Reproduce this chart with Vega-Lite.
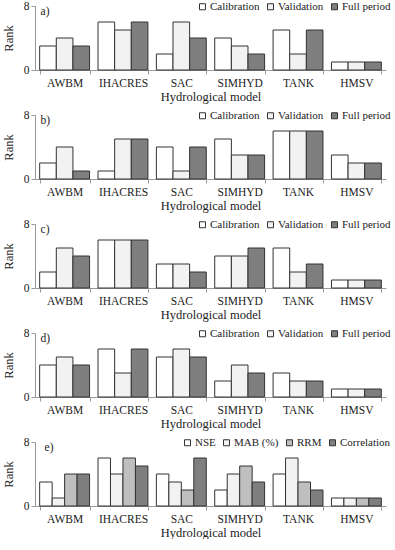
{
  "$schema": "https://vega.github.io/schema/vega-lite/v6.json",
  "padding": {"left": 2, "top": 0, "right": 2, "bottom": 0},
  "background": "white",
  "spacing": 6,
  "config": {
    "font": "Liberation Serif",
    "text": {"font": "Liberation Serif"},
    "view": {"stroke": null},
    "axis": {"labelFont": "Liberation Serif", "titleFont": "Liberation Serif", "labelFontSize": 11.5, "titleFontSize": 12.5, "titleFontWeight": "normal", "labelColor": "#222", "titleColor": "#222", "domainColor": "#999", "tickColor": "#999", "tickSize": 4, "grid": false},
    "legend": {"labelFont": "Liberation Serif", "labelFontSize": 11, "labelColor": "#222", "symbolType": "square", "symbolSize": 36, "symbolStrokeColor": "#333", "symbolStrokeWidth": 1, "labelOffset": 2, "columnPadding": 5, "orient": "top-right", "offset": -5, "direction": "horizontal", "title": null, "padding": 0}
  },
  "datasets": {
    "a": [
      {"model": "AWBM", "period": "Calibration", "rank": 3}, {"model": "AWBM", "period": "Validation", "rank": 4}, {"model": "AWBM", "period": "Full period", "rank": 3},
      {"model": "IHACRES", "period": "Calibration", "rank": 6}, {"model": "IHACRES", "period": "Validation", "rank": 5}, {"model": "IHACRES", "period": "Full period", "rank": 6},
      {"model": "SAC", "period": "Calibration", "rank": 2}, {"model": "SAC", "period": "Validation", "rank": 6}, {"model": "SAC", "period": "Full period", "rank": 4},
      {"model": "SIMHYD", "period": "Calibration", "rank": 4}, {"model": "SIMHYD", "period": "Validation", "rank": 3}, {"model": "SIMHYD", "period": "Full period", "rank": 2},
      {"model": "TANK", "period": "Calibration", "rank": 5}, {"model": "TANK", "period": "Validation", "rank": 2}, {"model": "TANK", "period": "Full period", "rank": 5},
      {"model": "HMSV", "period": "Calibration", "rank": 1}, {"model": "HMSV", "period": "Validation", "rank": 1}, {"model": "HMSV", "period": "Full period", "rank": 1}
    ],
    "b": [
      {"model": "AWBM", "period": "Calibration", "rank": 2}, {"model": "AWBM", "period": "Validation", "rank": 4}, {"model": "AWBM", "period": "Full period", "rank": 1},
      {"model": "IHACRES", "period": "Calibration", "rank": 1}, {"model": "IHACRES", "period": "Validation", "rank": 5}, {"model": "IHACRES", "period": "Full period", "rank": 5},
      {"model": "SAC", "period": "Calibration", "rank": 4}, {"model": "SAC", "period": "Validation", "rank": 1}, {"model": "SAC", "period": "Full period", "rank": 4},
      {"model": "SIMHYD", "period": "Calibration", "rank": 5}, {"model": "SIMHYD", "period": "Validation", "rank": 3}, {"model": "SIMHYD", "period": "Full period", "rank": 3},
      {"model": "TANK", "period": "Calibration", "rank": 6}, {"model": "TANK", "period": "Validation", "rank": 6}, {"model": "TANK", "period": "Full period", "rank": 6},
      {"model": "HMSV", "period": "Calibration", "rank": 3}, {"model": "HMSV", "period": "Validation", "rank": 2}, {"model": "HMSV", "period": "Full period", "rank": 2}
    ],
    "c": [
      {"model": "AWBM", "period": "Calibration", "rank": 2}, {"model": "AWBM", "period": "Validation", "rank": 5}, {"model": "AWBM", "period": "Full period", "rank": 4},
      {"model": "IHACRES", "period": "Calibration", "rank": 6}, {"model": "IHACRES", "period": "Validation", "rank": 6}, {"model": "IHACRES", "period": "Full period", "rank": 6},
      {"model": "SAC", "period": "Calibration", "rank": 3}, {"model": "SAC", "period": "Validation", "rank": 3}, {"model": "SAC", "period": "Full period", "rank": 2},
      {"model": "SIMHYD", "period": "Calibration", "rank": 4}, {"model": "SIMHYD", "period": "Validation", "rank": 4}, {"model": "SIMHYD", "period": "Full period", "rank": 5},
      {"model": "TANK", "period": "Calibration", "rank": 5}, {"model": "TANK", "period": "Validation", "rank": 2}, {"model": "TANK", "period": "Full period", "rank": 3},
      {"model": "HMSV", "period": "Calibration", "rank": 1}, {"model": "HMSV", "period": "Validation", "rank": 1}, {"model": "HMSV", "period": "Full period", "rank": 1}
    ],
    "d": [
      {"model": "AWBM", "period": "Calibration", "rank": 4}, {"model": "AWBM", "period": "Validation", "rank": 5}, {"model": "AWBM", "period": "Full period", "rank": 4},
      {"model": "IHACRES", "period": "Calibration", "rank": 6}, {"model": "IHACRES", "period": "Validation", "rank": 3}, {"model": "IHACRES", "period": "Full period", "rank": 6},
      {"model": "SAC", "period": "Calibration", "rank": 5}, {"model": "SAC", "period": "Validation", "rank": 6}, {"model": "SAC", "period": "Full period", "rank": 5},
      {"model": "SIMHYD", "period": "Calibration", "rank": 2}, {"model": "SIMHYD", "period": "Validation", "rank": 4}, {"model": "SIMHYD", "period": "Full period", "rank": 3},
      {"model": "TANK", "period": "Calibration", "rank": 3}, {"model": "TANK", "period": "Validation", "rank": 2}, {"model": "TANK", "period": "Full period", "rank": 2},
      {"model": "HMSV", "period": "Calibration", "rank": 1}, {"model": "HMSV", "period": "Validation", "rank": 1}, {"model": "HMSV", "period": "Full period", "rank": 1}
    ],
    "e": [
      {"model": "AWBM", "metric": "NSE", "rank": 3}, {"model": "AWBM", "metric": "MAB (%)", "rank": 1}, {"model": "AWBM", "metric": "RRM", "rank": 4}, {"model": "AWBM", "metric": "Correlation", "rank": 4},
      {"model": "IHACRES", "metric": "NSE", "rank": 6}, {"model": "IHACRES", "metric": "MAB (%)", "rank": 4}, {"model": "IHACRES", "metric": "RRM", "rank": 6}, {"model": "IHACRES", "metric": "Correlation", "rank": 5},
      {"model": "SAC", "metric": "NSE", "rank": 4}, {"model": "SAC", "metric": "MAB (%)", "rank": 3}, {"model": "SAC", "metric": "RRM", "rank": 2}, {"model": "SAC", "metric": "Correlation", "rank": 6},
      {"model": "SIMHYD", "metric": "NSE", "rank": 2}, {"model": "SIMHYD", "metric": "MAB (%)", "rank": 4}, {"model": "SIMHYD", "metric": "RRM", "rank": 5}, {"model": "SIMHYD", "metric": "Correlation", "rank": 3},
      {"model": "TANK", "metric": "NSE", "rank": 4}, {"model": "TANK", "metric": "MAB (%)", "rank": 6}, {"model": "TANK", "metric": "RRM", "rank": 3}, {"model": "TANK", "metric": "Correlation", "rank": 2},
      {"model": "HMSV", "metric": "NSE", "rank": 1}, {"model": "HMSV", "metric": "MAB (%)", "rank": 1}, {"model": "HMSV", "metric": "RRM", "rank": 1}, {"model": "HMSV", "metric": "Correlation", "rank": 1}
    ],
    "la": [{"label": "a)"}], "lb": [{"label": "b)"}], "lc": [{"label": "c)"}], "ld": [{"label": "d)"}], "le": [{"label": "e)"}]
  },
  "vconcat": [
    {
      "width": 351, "height": 64,
      "layer": [
        {"data": {"name": "a"}, "mark": {"type": "bar", "stroke": "#333", "strokeWidth": 1},
         "encoding": {
           "x": {"field": "model", "type": "nominal", "sort": ["AWBM", "IHACRES", "SAC", "SIMHYD", "TANK", "HMSV"], "scale": {"paddingInner": 0.145, "paddingOuter": 0.08}, "axis": {"title": "Hydrological model", "labelAngle": 0, "tickBand": "extent", "labelPadding": 3, "titlePadding": 2}},
           "xOffset": {"field": "period", "type": "nominal", "sort": ["Calibration", "Validation", "Full period"], "scale": {"domain": ["Calibration", "Validation", "Full period"]}},
           "y": {"field": "rank", "type": "quantitative", "scale": {"domain": [0, 8]}, "axis": {"title": "Rank", "values": [0, 2, 4, 6, 8], "labelPadding": 2, "titlePadding": 8}},
           "fill": {"field": "period", "type": "nominal", "sort": ["Calibration", "Validation", "Full period"], "scale": {"domain": ["Calibration", "Validation", "Full period"], "range": ["#ffffff", "#f2f2f2", "#7f7f7f"]}}
         }},
        {"data": {"name": "la"}, "mark": {"type": "text", "align": "left", "baseline": "middle", "dx": -24, "fontSize": 11.5, "color": "#222"},
         "encoding": {"x": {"datum": "AWBM"}, "y": {"datum": 7.2}, "text": {"field": "label"}}}
      ]
    },
    {
      "width": 351, "height": 64,
      "layer": [
        {"data": {"name": "b"}, "mark": {"type": "bar", "stroke": "#333", "strokeWidth": 1},
         "encoding": {
           "x": {"field": "model", "type": "nominal", "sort": ["AWBM", "IHACRES", "SAC", "SIMHYD", "TANK", "HMSV"], "scale": {"paddingInner": 0.145, "paddingOuter": 0.08}, "axis": {"title": "Hydrological model", "labelAngle": 0, "tickBand": "extent", "labelPadding": 3, "titlePadding": 2}},
           "xOffset": {"field": "period", "type": "nominal", "sort": ["Calibration", "Validation", "Full period"], "scale": {"domain": ["Calibration", "Validation", "Full period"]}},
           "y": {"field": "rank", "type": "quantitative", "scale": {"domain": [0, 8]}, "axis": {"title": "Rank", "values": [0, 2, 4, 6, 8], "labelPadding": 2, "titlePadding": 8}},
           "fill": {"field": "period", "type": "nominal", "sort": ["Calibration", "Validation", "Full period"], "scale": {"domain": ["Calibration", "Validation", "Full period"], "range": ["#ffffff", "#f2f2f2", "#7f7f7f"]}}
         }},
        {"data": {"name": "lb"}, "mark": {"type": "text", "align": "left", "baseline": "middle", "dx": -24, "fontSize": 11.5, "color": "#222"},
         "encoding": {"x": {"datum": "AWBM"}, "y": {"datum": 7.2}, "text": {"field": "label"}}}
      ]
    },
    {
      "width": 351, "height": 64,
      "layer": [
        {"data": {"name": "c"}, "mark": {"type": "bar", "stroke": "#333", "strokeWidth": 1},
         "encoding": {
           "x": {"field": "model", "type": "nominal", "sort": ["AWBM", "IHACRES", "SAC", "SIMHYD", "TANK", "HMSV"], "scale": {"paddingInner": 0.145, "paddingOuter": 0.08}, "axis": {"title": "Hydrological model", "labelAngle": 0, "tickBand": "extent", "labelPadding": 3, "titlePadding": 2}},
           "xOffset": {"field": "period", "type": "nominal", "sort": ["Calibration", "Validation", "Full period"], "scale": {"domain": ["Calibration", "Validation", "Full period"]}},
           "y": {"field": "rank", "type": "quantitative", "scale": {"domain": [0, 8]}, "axis": {"title": "Rank", "values": [0, 2, 4, 6, 8], "labelPadding": 2, "titlePadding": 8}},
           "fill": {"field": "period", "type": "nominal", "sort": ["Calibration", "Validation", "Full period"], "scale": {"domain": ["Calibration", "Validation", "Full period"], "range": ["#ffffff", "#f2f2f2", "#7f7f7f"]}}
         }},
        {"data": {"name": "lc"}, "mark": {"type": "text", "align": "left", "baseline": "middle", "dx": -24, "fontSize": 11.5, "color": "#222"},
         "encoding": {"x": {"datum": "AWBM"}, "y": {"datum": 7.2}, "text": {"field": "label"}}}
      ]
    },
    {
      "width": 351, "height": 64,
      "layer": [
        {"data": {"name": "d"}, "mark": {"type": "bar", "stroke": "#333", "strokeWidth": 1},
         "encoding": {
           "x": {"field": "model", "type": "nominal", "sort": ["AWBM", "IHACRES", "SAC", "SIMHYD", "TANK", "HMSV"], "scale": {"paddingInner": 0.145, "paddingOuter": 0.08}, "axis": {"title": "Hydrological model", "labelAngle": 0, "tickBand": "extent", "labelPadding": 3, "titlePadding": 2}},
           "xOffset": {"field": "period", "type": "nominal", "sort": ["Calibration", "Validation", "Full period"], "scale": {"domain": ["Calibration", "Validation", "Full period"]}},
           "y": {"field": "rank", "type": "quantitative", "scale": {"domain": [0, 8]}, "axis": {"title": "Rank", "values": [0, 2, 4, 6, 8], "labelPadding": 2, "titlePadding": 8}},
           "fill": {"field": "period", "type": "nominal", "sort": ["Calibration", "Validation", "Full period"], "scale": {"domain": ["Calibration", "Validation", "Full period"], "range": ["#ffffff", "#f2f2f2", "#7f7f7f"]}}
         }},
        {"data": {"name": "ld"}, "mark": {"type": "text", "align": "left", "baseline": "middle", "dx": -24, "fontSize": 11.5, "color": "#222"},
         "encoding": {"x": {"datum": "AWBM"}, "y": {"datum": 7.2}, "text": {"field": "label"}}}
      ]
    },
    {
      "width": 351, "height": 64,
      "layer": [
        {"data": {"name": "e"}, "mark": {"type": "bar", "stroke": "#333", "strokeWidth": 1},
         "encoding": {
           "x": {"field": "model", "type": "nominal", "sort": ["AWBM", "IHACRES", "SAC", "SIMHYD", "TANK", "HMSV"], "scale": {"paddingInner": 0.145, "paddingOuter": 0.08}, "axis": {"title": "Hydrological model", "labelAngle": 0, "tickBand": "extent", "labelPadding": 3, "titlePadding": 2}},
           "xOffset": {"field": "metric", "type": "nominal", "sort": ["NSE", "MAB (%)", "RRM", "Correlation"], "scale": {"domain": ["NSE", "MAB (%)", "RRM", "Correlation"]}},
           "y": {"field": "rank", "type": "quantitative", "scale": {"domain": [0, 8]}, "axis": {"title": "Rank", "values": [0, 2, 4, 6, 8], "labelPadding": 2, "titlePadding": 8}},
           "fill": {"field": "metric", "type": "nominal", "sort": ["NSE", "MAB (%)", "RRM", "Correlation"], "scale": {"domain": ["NSE", "MAB (%)", "RRM", "Correlation"], "range": ["#ffffff", "#f2f2f2", "#bfbfbf", "#7f7f7f"]}}
         }},
        {"data": {"name": "le"}, "mark": {"type": "text", "align": "left", "baseline": "middle", "dx": -20, "fontSize": 11.5, "color": "#222"},
         "encoding": {"x": {"datum": "AWBM"}, "y": {"datum": 7.2}, "text": {"field": "label"}}}
      ]
    }
  ],
  "resolve": {"scale": {"fill": "independent", "x": "independent", "y": "independent", "xOffset": "independent"}, "legend": {"fill": "independent"}}
}
